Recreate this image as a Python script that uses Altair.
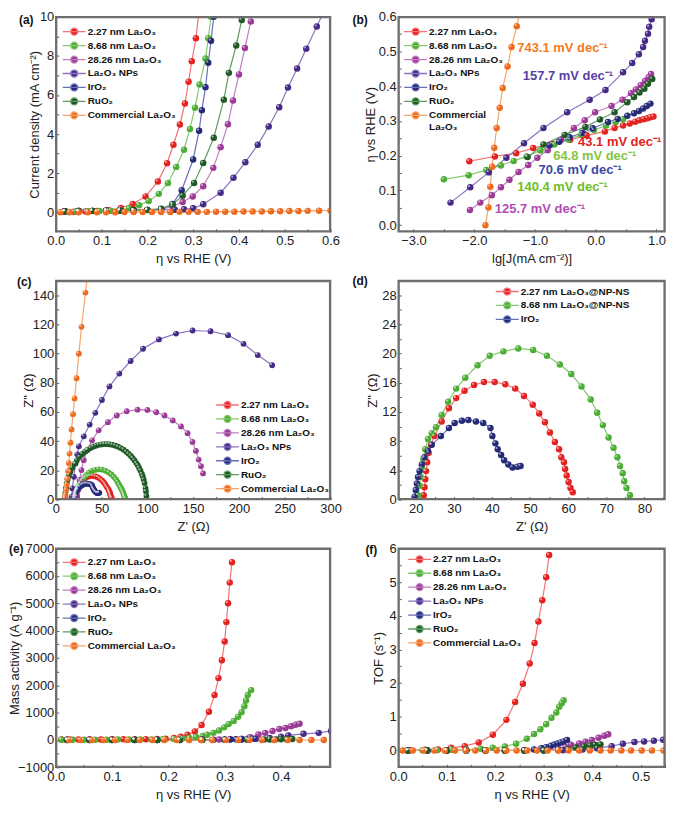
import altair as alt
import pandas as pd

FONT = "Liberation Sans"

NAMES = ["2.27 nm La₂O₃", "8.68 nm La₂O₃", "28.26 nm La₂O₃", "La₂O₃ NPs", "IrO₂", "RuO₂", "Commercial La₂O₃"]
D_NAMES = ["2.27 nm La₂O₃@NP-NS", "8.68 nm La₂O₃@NP-NS", "IrO₂"]
FILLS = ["#E42320", "#4DAE35", "#9B3A97", "#452A86", "#252B78", "#1E5A25", "#EE6A1F"]
LINES = ["#F27277", "#86C870", "#C27DC0", "#8A74C0", "#6670B8", "#5E9C63", "#F6A46A"]
D_FILLS = ["#E42320", "#4DAE35", "#252B78"]
D_LINES = ["#F27277", "#86C870", "#6670B8"]

# ---------------- (a) polarization curves ----------------
A_X_227 = [0.015, 0.04, 0.065, 0.09, 0.115, 0.142, 0.168, 0.196, 0.223, 0.243, 0.257, 0.271, 0.282, 0.29, 0.297, 0.306, 0.312]
A_Y_227 = [0.02, 0.03, 0.04, 0.06, 0.1, 0.22, 0.42, 0.81, 1.57, 2.51, 3.45, 4.49, 5.56, 6.68, 7.73, 8.9, 10.1]
A_X_868 = [0.02, 0.045, 0.07, 0.095, 0.12, 0.14, 0.16, 0.182, 0.203, 0.225, 0.245, 0.263, 0.28, 0.293, 0.304, 0.314, 0.327, 0.333, 0.339]
A_Y_868 = [0.03, 0.04, 0.05, 0.06, 0.08, 0.12, 0.2, 0.36, 0.58, 0.94, 1.5, 2.32, 3.2, 4.26, 5.35, 6.53, 7.86, 8.9, 10.0]
A_X_2826 = [0.02, 0.05, 0.08, 0.11, 0.14, 0.17, 0.2, 0.23, 0.255, 0.277, 0.299, 0.322, 0.344, 0.36, 0.376, 0.387, 0.4, 0.413, 0.426]
A_Y_2826 = [0.05, 0.06, 0.07, 0.08, 0.09, 0.1, 0.12, 0.15, 0.3, 0.52, 0.81, 1.33, 2.27, 3.33, 4.5, 5.72, 7.05, 8.4, 9.76]
A_X_NPS = [0.02, 0.05, 0.08, 0.11, 0.14, 0.17, 0.2, 0.23, 0.26, 0.28, 0.3, 0.322, 0.36, 0.388, 0.414, 0.441, 0.465, 0.488, 0.507, 0.527, 0.547, 0.57, 0.582]
A_Y_NPS = [0.05, 0.06, 0.07, 0.08, 0.09, 0.1, 0.11, 0.12, 0.13, 0.15, 0.2, 0.41, 1.0, 1.76, 2.56, 3.45, 4.39, 5.37, 6.38, 7.35, 8.37, 9.5, 10.1]
A_X_IRO = [0.02, 0.05, 0.08, 0.11, 0.14, 0.17, 0.2, 0.23, 0.255, 0.275, 0.3, 0.313, 0.319, 0.327, 0.333, 0.339, 0.345]
A_Y_IRO = [0.05, 0.06, 0.07, 0.08, 0.09, 0.1, 0.12, 0.16, 0.42, 1.13, 2.7, 4.17, 5.22, 6.4, 7.65, 8.77, 10.0]
A_X_RUO = [0.02, 0.05, 0.08, 0.11, 0.14, 0.17, 0.2, 0.23, 0.255, 0.277, 0.302, 0.322, 0.345, 0.367, 0.378, 0.394, 0.406]
A_Y_RUO = [0.05, 0.06, 0.07, 0.08, 0.09, 0.1, 0.12, 0.18, 0.4, 0.85, 1.5, 2.52, 3.81, 5.76, 7.13, 8.53, 9.83]
A_X_COM = [0.01, 0.03, 0.05, 0.07, 0.09, 0.11, 0.13, 0.15, 0.17, 0.19, 0.21, 0.23, 0.25, 0.27, 0.29, 0.31, 0.33, 0.35, 0.37, 0.39, 0.41, 0.43, 0.45, 0.47, 0.49, 0.51, 0.53, 0.55, 0.575, 0.6]
A_Y_COM = [0.0, 0.0, 0.0, 0.0, 0.0, 0.0, 0.0, 0.01, 0.01, 0.01, 0.01, 0.01, 0.01, 0.02, 0.02, 0.02, 0.02, 0.03, 0.03, 0.03, 0.04, 0.04, 0.04, 0.05, 0.05, 0.06, 0.06, 0.07, 0.08, 0.09]

# ---------------- (b) Tafel plots ----------------
B_X_227 = [-2.08, -1.66, -1.31, -1.03, -0.72, -0.42, -0.15, 0.15, 0.31, 0.45, 0.56, 0.65, 0.72, 0.79, 0.85, 0.9, 0.95]
B_Y_227 = [0.184, 0.198, 0.207, 0.222, 0.234, 0.246, 0.258, 0.27, 0.28, 0.287, 0.293, 0.298, 0.302, 0.305, 0.308, 0.311, 0.313]
B_X_868 = [-2.5, -2.09, -1.8, -1.56, -1.35, -1.14, -0.91, -0.68, -0.45, -0.24, -0.03, 0.17, 0.33, 0.45]
B_Y_868 = [0.132, 0.144, 0.159, 0.172, 0.185, 0.198, 0.215, 0.232, 0.247, 0.26, 0.274, 0.287, 0.297, 0.305]
B_X_2826 = [-2.07, -1.9, -1.71, -1.56, -1.42, -1.27, -1.11, -0.96, -0.79, -0.57, -0.36, -0.18, -0.01, 0.26, 0.44, 0.58, 0.66, 0.74, 0.81, 0.87, 0.91]
B_Y_2826 = [0.044, 0.065, 0.086, 0.109, 0.131, 0.153, 0.173, 0.194, 0.216, 0.246, 0.28, 0.302, 0.325, 0.343, 0.361, 0.38, 0.391, 0.403, 0.415, 0.426, 0.435]
B_X_NPS = [-2.39, -2.065, -1.76, -1.47, -1.18, -0.86, -0.47, -0.1, 0.16, 0.45, 0.6, 0.71, 0.78, 0.81, 0.86, 0.88, 0.92]
B_Y_NPS = [0.065, 0.109, 0.152, 0.194, 0.236, 0.28, 0.325, 0.361, 0.389, 0.44, 0.467, 0.492, 0.513, 0.531, 0.551, 0.571, 0.593]
B_X_IRO = [-0.76, -0.6, -0.43, -0.22, -0.05, 0.2, 0.36, 0.52, 0.63, 0.71, 0.78, 0.84, 0.9]
B_Y_IRO = [0.23, 0.24, 0.253, 0.266, 0.279, 0.297, 0.306, 0.315, 0.322, 0.329, 0.336, 0.343, 0.35]
B_X_RUO = [-1.12, -0.86, -0.51, -0.17, 0.07, 0.31, 0.52, 0.63, 0.72, 0.8, 0.86, 0.93]
B_Y_RUO = [0.196, 0.232, 0.26, 0.283, 0.304, 0.325, 0.354, 0.369, 0.382, 0.393, 0.407, 0.421]
B_X_COM = [-1.815, -1.765, -1.735, -1.705, -1.67, -1.63, -1.58, -1.53, -1.45, -1.385, -1.3, -1.22]
B_Y_COM = [0.0, 0.051, 0.111, 0.168, 0.223, 0.28, 0.338, 0.395, 0.457, 0.513, 0.573, 0.635]
B_ANN_TEXT = ["743.1 mV dec⁻¹", "157.7 mV dec⁻¹", "43.1 mV dec⁻¹", "64.8 mV dec⁻¹", "70.6 mV dec⁻¹", "140.4 mV dec⁻¹", "125.7 mV dec⁻¹"]
B_ANN_X = [-1.29, -1.2, -0.29, -0.7, -0.94, -1.29, -1.66]
B_ANN_Y = [0.51, 0.43, 0.238, 0.198, 0.158, 0.109, 0.047]
B_ANN_COLOR = ["#F47B20", "#5A3FA6", "#E42320", "#86C440", "#3A4AA8", "#6DBE2B", "#B04CB6"]

# ---------------- (d) Nyquist, zoom (also used in c) ----------------
D_X_227 = [22.1, 22.3, 22.5, 22.7, 23.0, 23.4, 24.0, 24.9, 26.8, 28.7, 30.6, 32.8, 35.3, 37.9, 40.7, 43.5, 46.1, 48.4, 50.7, 52.4, 53.9, 55.2, 56.5, 57.6, 58.2, 58.9, 59.2, 59.6, 60.1, 60.6, 61.2]
D_Y_227 = [0.6, 1.7, 2.8, 3.9, 5.1, 6.4, 7.5, 8.7, 10.7, 12.5, 13.9, 14.9, 15.7, 16.1, 16.1, 15.8, 15.2, 14.2, 13.0, 11.8, 10.6, 9.2, 7.9, 6.9, 5.8, 5.1, 4.2, 3.3, 2.4, 1.6, 1.0]
D_X_868 = [20.6, 21.0, 21.3, 21.6, 22.0, 22.5, 23.2, 24.2, 25.3, 26.8, 28.5, 30.6, 33.0, 36.2, 39.4, 43.0, 46.9, 50.8, 54.4, 57.8, 60.8, 63.5, 65.9, 67.6, 69.1, 70.6, 71.9, 72.9, 73.6, 74.3, 74.7, 75.3, 76.2]
D_Y_868 = [0.6, 1.9, 3.1, 4.3, 5.6, 6.9, 8.3, 9.1, 9.9, 11.6, 13.4, 15.2, 16.7, 18.4, 19.7, 20.3, 20.7, 20.5, 19.7, 18.5, 17.2, 15.5, 13.7, 11.9, 10.2, 8.5, 7.1, 5.8, 4.6, 3.6, 2.5, 1.6, 0.6]
D_X_IRO = [19.7, 20.0, 20.3, 20.6, 21.0, 21.6, 22.3, 23.2, 24.2, 26.6, 28.7, 30.2, 32.1, 33.8, 35.8, 37.7, 39.6, 40.1, 40.9, 41.5, 42.4, 43.2, 44.3, 45.4, 46.7, 47.5]
D_Y_IRO = [0.4, 1.3, 2.2, 3.1, 3.9, 4.8, 5.8, 6.7, 7.5, 8.7, 9.8, 10.5, 10.8, 10.9, 10.7, 10.5, 9.8, 8.7, 7.7, 6.9, 6.1, 5.4, 4.8, 4.4, 4.5, 4.6]

# ---------------- (c) Nyquist, full ----------------
C_X_2826 = [23.4, 24.5, 25.9, 28, 30.5, 34.2, 39.6, 46.8, 56.9, 66.6, 77.4, 89.2, 100, 109.7, 118.7, 127.7, 136.7, 143.9, 149.3, 153, 156, 158.5, 160.8]
C_Y_2826 = [2, 6.6, 13.4, 20.2, 27, 33.8, 40.6, 47.4, 53, 57.6, 60.5, 61.6, 61.4, 59.8, 57.6, 54.2, 50.1, 45.5, 39.5, 33.3, 27.4, 22.9, 17.9]
C_X_NPS = [17.3, 18, 19.8, 21.6, 23.5, 25.2, 30.6, 37, 43.2, 50.4, 58.6, 69.4, 81.7, 95.3, 112.6, 131.3, 149.3, 169, 188.1, 205, 220.5, 236.3]
C_Y_NPS = [2, 7.7, 15.6, 24.7, 31, 36.5, 43.3, 51.4, 59.4, 68.2, 77.5, 86.3, 94.9, 103.3, 109.7, 113.7, 115.8, 115.3, 112.6, 106.7, 99, 92]
C_X_RUO = [10, 10.5, 11.2, 12, 13, 14.5, 16, 18, 20.5, 23, 26, 29, 32, 35, 38, 41, 44, 47, 50, 53, 56, 59, 62, 65, 68, 71, 74, 77, 79.5, 82, 84, 86, 88, 89.5, 91, 92.5, 94, 95, 96, 97, 98, 98.5, 99]
C_Y_RUO = [1.5, 4.5, 8, 11.3, 13.7, 16.6, 19.1, 21.7, 24.5, 26.8, 29.2, 31.2, 32.8, 34.2, 35.3, 36.2, 36.9, 37.5, 37.8, 38, 38, 37.8, 37.5, 36.9, 36.2, 35.3, 34.2, 32.8, 31.4, 29.9, 28.4, 26.8, 25, 23.5, 21.7, 19.8, 17.5, 15.8, 13.7, 11.3, 7.9, 5.6, 2.5]
C_X_COM = [9.8, 10.5, 11.2, 11.9, 12.6, 13.4, 14.2, 15.0, 16.0, 17.2, 18.8, 20.5, 22.7, 25.2, 28.1, 32.4, 36]
C_Y_COM = [0.5, 3, 6.5, 10, 14.5, 19.5, 25, 31.5, 39, 48, 58.5, 69.3, 83.1, 99.9, 118.3, 141.8, 160]

# ---------------- (e) mass activity ----------------
E_X_227 = [0.01, 0.025, 0.04, 0.06, 0.08, 0.1, 0.12, 0.14, 0.16, 0.18, 0.195, 0.21, 0.222, 0.234, 0.247, 0.259, 0.272, 0.282, 0.289, 0.295, 0.3, 0.303, 0.306, 0.309, 0.313]
E_Y_227 = [20, 20, 20, 20, 20, 25, 25, 30, 30, 35, 45, 70, 118, 189, 308, 544, 1029, 1644, 2260, 2910, 3597, 4306, 4993, 5749, 6495]
E_X_868 = [0.01, 0.03, 0.05, 0.07, 0.09, 0.11, 0.13, 0.15, 0.17, 0.19, 0.21, 0.225, 0.237, 0.249, 0.261, 0.269, 0.28, 0.29, 0.299, 0.307, 0.316, 0.324, 0.33, 0.335, 0.338, 0.341, 0.347]
E_Y_868 = [10, 10, 10, 10, 10, 15, 15, 20, 20, 25, 35, 50, 71, 106, 142, 189, 260, 343, 461, 580, 698, 852, 1017, 1230, 1443, 1644, 1822]
E_X_2826 = [0.02, 0.06, 0.1, 0.14, 0.18, 0.22, 0.26, 0.29, 0.31, 0.33, 0.345, 0.36, 0.372, 0.385, 0.397, 0.408, 0.418, 0.426, 0.433]
E_Y_2826 = [10, 10, 10, 10, 10, 10, 15, 20, 30, 50, 100, 200, 260, 330, 400, 440, 500, 560, 590]
E_X_NPS = [0.02, 0.06, 0.1, 0.14, 0.18, 0.22, 0.26, 0.3, 0.33, 0.355, 0.38, 0.4, 0.413, 0.44, 0.467, 0.489]
E_Y_NPS = [5, 5, 5, 5, 5, 5, 5, 10, 20, 40, 70, 120, 166, 225, 260, 331]
E_X_IRO = [0.02, 0.06, 0.1, 0.14, 0.18, 0.22, 0.26, 0.28, 0.3, 0.31, 0.32, 0.33, 0.34, 0.35]
E_Y_IRO = [0, 0, 0, 0, 0, 0, 5, 10, 15, 20, 25, 30, 40, 50]
E_X_RUO = [0.02, 0.06, 0.1, 0.14, 0.18, 0.22, 0.26, 0.3, 0.34, 0.37, 0.38, 0.39, 0.4, 0.41, 0.42]
E_Y_RUO = [0, 0, 0, 0, 0, 0, 0, 5, 10, 15, 18, 22, 25, 30, 35]
E_X_COM = [0.023, 0.044, 0.064, 0.085, 0.105, 0.127, 0.149, 0.172, 0.193, 0.215, 0.237, 0.258, 0.278, 0.302, 0.324, 0.344, 0.366, 0.388, 0.412, 0.433, 0.454, 0.476]
E_Y_COM = [0, 0, 0, 0, 0, 0, 0, 0, 0, 0, 0, 0, 0, 0, 0, 0, 0, 0, 0, 0, 0, 0]

# ---------------- (f) TOF ----------------
F_X_227 = [0.025, 0.055, 0.082, 0.109, 0.137, 0.166, 0.195, 0.223, 0.241, 0.257, 0.271, 0.281, 0.289, 0.297, 0.305, 0.311]
F_Y_227 = [0.01, 0.02, 0.03, 0.08, 0.13, 0.24, 0.47, 0.91, 1.44, 1.98, 2.58, 3.19, 3.83, 4.46, 5.14, 5.8]
F_X_868 = [0.02, 0.05, 0.08, 0.11, 0.14, 0.17, 0.195, 0.22, 0.243, 0.265, 0.28, 0.293, 0.305, 0.316, 0.326, 0.332, 0.337, 0.341]
F_Y_868 = [0.0, 0.01, 0.01, 0.02, 0.03, 0.05, 0.08, 0.12, 0.2, 0.35, 0.49, 0.63, 0.78, 0.97, 1.13, 1.3, 1.4, 1.49]
F_X_2826 = [0.02, 0.06, 0.1, 0.14, 0.18, 0.22, 0.26, 0.3, 0.33, 0.345, 0.356, 0.373, 0.386, 0.399, 0.413, 0.425, 0.433]
F_Y_2826 = [0, 0, 0, 0, 0, 0, 0, 0.01, 0.05, 0.1, 0.17, 0.21, 0.26, 0.31, 0.38, 0.44, 0.48]
F_X_NPS = [0.02, 0.06, 0.1, 0.14, 0.18, 0.22, 0.26, 0.3, 0.34, 0.38, 0.41, 0.44, 0.463, 0.487, 0.507, 0.527, 0.546]
F_Y_NPS = [0, 0, 0, 0, 0, 0, 0, 0, 0.01, 0.03, 0.07, 0.13, 0.2, 0.25, 0.27, 0.29, 0.32]
F_X_IRO = [0.02, 0.06, 0.1, 0.14, 0.18, 0.22, 0.26, 0.28, 0.295, 0.305, 0.315, 0.322, 0.329, 0.335, 0.341, 0.348]
F_Y_IRO = [0, 0, 0, 0, 0, 0, 0.01, 0.03, 0.07, 0.1, 0.14, 0.18, 0.21, 0.24, 0.27, 0.31]
F_X_RUO = [0.02, 0.06, 0.1, 0.14, 0.18, 0.22, 0.26, 0.3, 0.33, 0.35, 0.366, 0.383, 0.396, 0.406, 0.417]
F_Y_RUO = [0, 0, 0, 0, 0, 0, 0, 0, 0.01, 0.04, 0.09, 0.12, 0.15, 0.17, 0.18]
F_X_COM = [0.009, 0.03, 0.052, 0.074, 0.096, 0.117, 0.139, 0.159, 0.181, 0.203, 0.223, 0.244, 0.266, 0.286, 0.308, 0.33, 0.351, 0.373, 0.395, 0.417, 0.438, 0.46, 0.48, 0.502, 0.523, 0.547]
F_Y_COM = [0, 0, 0, 0, 0, 0, 0, 0, 0, 0, 0, 0, 0, 0, 0, 0, 0, 0, 0, 0, 0, 0, 0, 0, 0, 0]

# ---------------- tick positions ----------------
A_XT = [0.0, 0.05, 0.1, 0.15, 0.2, 0.25, 0.3, 0.35, 0.4, 0.45, 0.5, 0.55, 0.6]
A_YT = [0, 1, 2, 3, 4, 5, 6, 7, 8, 9, 10]
B_XT = [-3.0, -2.5, -2.0, -1.5, -1.0, -0.5, 0.0, 0.5, 1.0]
B_YT = [0.0, 0.05, 0.1, 0.15, 0.2, 0.25, 0.3, 0.35, 0.4, 0.45, 0.5, 0.55, 0.6]
C_XT = [0, 25, 50, 75, 100, 125, 150, 175, 200, 225, 250, 275, 300]
C_YT = [0, 10, 20, 30, 40, 50, 60, 70, 80, 90, 100, 110, 120, 130, 140, 150]
D_XT = [20, 25, 30, 35, 40, 45, 50, 55, 60, 65, 70, 75, 80, 85]
D_YT = [0, 2, 4, 6, 8, 10, 12, 14, 16, 18, 20, 22, 24, 26, 28, 30]
E_XT = [0.0, 0.05, 0.1, 0.15, 0.2, 0.25, 0.3, 0.35, 0.4, 0.45]
E_YT = [-1000, -500, 0, 500, 1000, 1500, 2000, 2500, 3000, 3500, 4000, 4500, 5000, 5500, 6000, 6500, 7000]
F_XT = [0.0, 0.05, 0.1, 0.15, 0.2, 0.25, 0.3, 0.35, 0.4, 0.45, 0.5, 0.55]
F_YT = [0, 0.5, 1, 1.5, 2, 2.5, 3, 3.5, 4, 4.5, 5, 5.5, 6]

SYMBOL = "M-1.2,0L3.4,0M0.4,0A0.7,0.7,0,1,1,1.8,0A0.7,0.7,0,1,1,0.4,0Z"
FRAME = "#6f6f6f"
FRAME_W = 1.6

AX = dict(tickSize=3, offset=-3, domain=False, grid=False, tickColor="#555555", tickWidth=1,
          labelColor="#222222", labelFont=FONT, labelFontSize=13, titleFont=FONT, titleFontSize=13,
          titleFontWeight="normal", titleColor="#222222", labelFlush=False, labelOverlap=False)


def lab(step, fmt):
    return (f"abs(datum.value/{step} - round(datum.value/{step})) < 0.001 ? "
            f"format(datum.value, '{fmt}') : ''")


def panel(series, names, fills, lines, xdom, ydom, xt, xstep, xfmt, xtitle, yt, ystep, yfmt, ytitle,
          ytx, lx, ly, w, h, tag, tagx, tagy, size=42, label_expr=None, ann=None):
    parts = []
    for name, xs, ys in series:
        d = pd.DataFrame({"x": xs, "y": ys})
        d["s"] = name
        d["i"] = range(len(d))
        parts.append(d)
    df = pd.concat(parts, ignore_index=True)
    xenc = alt.X("x:Q", scale=alt.Scale(domain=xdom, nice=False, zero=False),
                 axis=alt.Axis(values=xt, labelExpr=lab(xstep, xfmt), title=xtitle, titleY=24,
                               titleBaseline="top", labelPadding=3, **AX))
    yenc = alt.Y("y:Q", scale=alt.Scale(domain=ydom, nice=False, zero=False),
                 axis=alt.Axis(values=yt, labelExpr=lab(ystep, yfmt), title=ytitle, titleX=ytx - 3,
                               titleBaseline="middle", labelPadding=2, **AX))
    lk = dict(orient="none", legendX=lx, legendY=ly, title=None, symbolType=SYMBOL, symbolSize=100,
              symbolStrokeWidth=1.3, labelFont=FONT, labelFontSize=10, labelFontWeight="bold",
              labelColor="#111111", labelOffset=13, rowPadding=0, padding=0, labelLimit=400)
    if label_expr:
        lk["labelExpr"] = label_expr
    leg = alt.Legend(**lk)
    base = alt.Chart(df).encode(x=xenc, y=yenc)
    ln = base.mark_line(strokeWidth=1.2, clip=True).encode(
        stroke=alt.Stroke("s:N", scale=alt.Scale(domain=names, range=lines), legend=leg),
        order=alt.Order("i:Q"))
    pt = base.mark_circle(size=size, opacity=1, clip=True).encode(
        fill=alt.Fill("s:N", scale=alt.Scale(domain=names, range=fills), legend=leg))
    hl = base.mark_circle(size=5, color="white", opacity=0.55, clip=True, xOffset=-1.2, yOffset=-1.2)
    layers = [ln, pt, hl]
    if ann is not None:
        at = alt.Chart(ann).mark_text(align="left", baseline="middle", font=FONT, fontSize=13,
                                      fontWeight="bold", clip=True).encode(
            x=xenc, y=yenc, text="t:N", color=alt.Color("c:N", scale=None, legend=None))
        layers.append(at)
    # plot frame traced through the corners of the scale domains, inset by half its stroke
    ix = (xdom[1] - xdom[0]) * (FRAME_W / 2) / w
    iy = (ydom[1] - ydom[0]) * (FRAME_W / 2) / h
    x0, x1 = xdom[0] + ix, xdom[1] - ix
    y0, y1 = ydom[0] + iy, ydom[1] - iy
    fr = pd.DataFrame({"x": [x0, x1, x1, x0, x0], "y": [y0, y0, y1, y1, y0], "i": [0, 1, 2, 3, 4]})
    box = alt.Chart(fr).mark_line(color=FRAME, strokeWidth=FRAME_W, strokeJoin="miter",
                                  strokeCap="square", opacity=1).encode(
        x=xenc, y=yenc, order=alt.Order("i:Q"))
    layers.append(box)
    tg = alt.Chart(pd.DataFrame({"t": [tag]})).mark_text(
        align="left", baseline="middle", font=FONT, fontSize=12, fontWeight="bold", color="#111111"
    ).encode(x=alt.value(tagx), y=alt.value(tagy), text="t:N")
    layers.append(tg)
    return alt.layer(*layers).properties(width=w, height=h)


W1, W2 = 276, 268
H1, H2, H3 = 216, 220, 220
ETA = "η vs RHE (V)"

pa = panel([(NAMES[0], A_X_227, A_Y_227), (NAMES[1], A_X_868, A_Y_868), (NAMES[2], A_X_2826, A_Y_2826),
            (NAMES[3], A_X_NPS, A_Y_NPS), (NAMES[4], A_X_IRO, A_Y_IRO), (NAMES[5], A_X_RUO, A_Y_RUO),
            (NAMES[6], A_X_COM, A_Y_COM)],
           NAMES, FILLS, LINES, [0, 0.6], [-1, 10], A_XT, 0.1, ".1f", ETA, A_YT, 2, "d",
           "Current density (mA cm⁻²)", -21, 7, 9, W1, H1, "(a)", -37, 3)

ann = pd.DataFrame({"x": B_ANN_X, "y": B_ANN_Y, "t": B_ANN_TEXT, "c": B_ANN_COLOR})
pb = panel([(NAMES[0], B_X_227, B_Y_227), (NAMES[1], B_X_868, B_Y_868), (NAMES[2], B_X_2826, B_Y_2826),
            (NAMES[3], B_X_NPS, B_Y_NPS), (NAMES[4], B_X_IRO, B_Y_IRO), (NAMES[5], B_X_RUO, B_Y_RUO),
            (NAMES[6], B_X_COM, B_Y_COM)],
           NAMES, FILLS, LINES, [-3.25, 1.14], [-0.019, 0.6], B_XT, 1, ".1f", "lg[J(mA cm⁻²)]",
           B_YT, 0.1, ".1f", ETA, -28, 6, 9, W2, H1, "(b)", -46, 3,
           label_expr="datum.label == 'Commercial La₂O₃' ? ['Commercial', 'La₂O₃'] : datum.label",
           ann=ann)

pc = panel([(NAMES[0], D_X_227, D_Y_227), (NAMES[1], D_X_868, D_Y_868), (NAMES[2], C_X_2826, C_Y_2826),
            (NAMES[3], C_X_NPS, C_Y_NPS), (NAMES[4], D_X_IRO, D_Y_IRO), (NAMES[5], C_X_RUO, C_Y_RUO),
            (NAMES[6], C_X_COM, C_Y_COM)],
           NAMES, FILLS, LINES, [0, 300], [0, 150], C_XT, 50, "d", "Z' (Ω)", C_YT, 20, "d",
           'Z" (Ω)', -27, 161, 119, W1, H2, "(c)", -39, 1, size=34)

pd_ = panel([(D_NAMES[0], D_X_227, D_Y_227), (D_NAMES[1], D_X_868, D_Y_868), (D_NAMES[2], D_X_IRO, D_Y_IRO)],
            D_NAMES, D_FILLS, D_LINES, [15.4, 85.4], [0, 30], D_XT, 10, "d", "Z' (Ω)", D_YT, 4, "d",
            'Z" (Ω)', -26, 98, 5, W2, H2, "(d)", -46, 0)

pe = panel([(NAMES[0], E_X_227, E_Y_227), (NAMES[1], E_X_868, E_Y_868), (NAMES[2], E_X_2826, E_Y_2826),
            (NAMES[3], E_X_NPS, E_Y_NPS), (NAMES[4], E_X_IRO, E_Y_IRO), (NAMES[5], E_X_RUO, E_Y_RUO),
            (NAMES[6], E_X_COM, E_Y_COM)],
           NAMES, FILLS, LINES, [0, 0.488], [-1000, 7000], E_XT, 0.1, ".1f", ETA, E_YT, 1000, "d",
           "Mass activity (A g⁻¹)", -41, 7, 8, W1, H3, "(e)", -47, 1)

pf = panel([(NAMES[0], F_X_227, F_Y_227), (NAMES[1], F_X_868, F_Y_868), (NAMES[2], F_X_2826, F_Y_2826),
            (NAMES[3], F_X_NPS, F_Y_NPS), (NAMES[4], F_X_IRO, F_Y_IRO), (NAMES[5], F_X_RUO, F_Y_RUO),
            (NAMES[6], F_X_COM, F_Y_COM)],
           NAMES, FILLS, LINES, [0, 0.55], [-0.5, 6], F_XT, 0.1, ".1f", ETA, F_YT, 1, "d",
           "TOF (s⁻¹)", -20, 10, 5, W2, H3, "(f)", -33, 2)

chart = alt.concat(pa, pb, pc, pd_, pe, pf, columns=2).properties(
    spacing={"row": 49, "column": 68}, bounds="flush", align="each",
    padding={"left": 0, "top": 0, "right": 0, "bottom": 0}
).resolve_scale(fill="independent", stroke="independent").configure(font=FONT).configure_view(
    stroke=FRAME, strokeWidth=1.5)

chart.save("out.html", embed_options={"renderer": "svg", "actions": False})
